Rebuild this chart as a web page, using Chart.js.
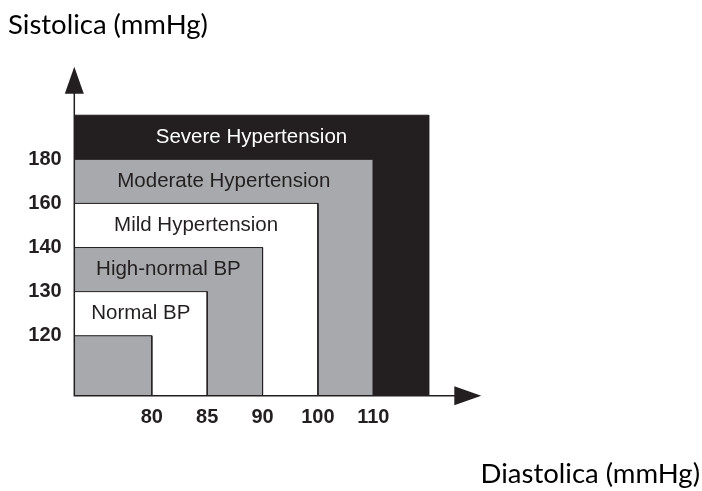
<!DOCTYPE html>
<html>
<head>
<meta charset="utf-8">
<script src="https://cdn.jsdelivr.net/npm/chart.js@4"></script>
<style>
  html, body { margin: 0; padding: 0; background: #fff; }
  #wrap { width: 702px; height: 491px; }
</style>
</head>
<body>
<div id="wrap"><canvas id="bpChart"></canvas></div>
<script>
// blood pressure classes, from the innermost box outwards
const categories = ['', 'Normal BP', 'High-normal BP', 'Mild Hypertension', 'Moderate Hypertension', 'Severe Hypertension'];
// upper limit of each class (null = no upper limit)
const diastolicLimits = [80, 85, 90, 100, 110, null];
const systolicLimits = [120, 130, 140, 160, 180, null];
// tick labels (the axes are drawn as ordinal steps, not to scale)
const xTickLabels = [80, 85, 90, 100, 110];
const yTickLabels = [120, 130, 140, 160, 180];

const boxColors = ['#a7a9ac', '#ffffff', '#a7a9ac', '#ffffff', '#a7a9ac', '#231f20'];
const labelColors = ['#231f20', '#231f20', '#231f20', '#231f20', '#231f20', '#ffffff'];
const INK = '#231f20';

const X_MIN = -1.4, X_MAX = 9.9, X_ARROW = 5.95;
const Y_MIN = -1.36, Y_MAX = 6.1;

// limit value -> position on the ordinal axis
const stepOf = (limits, ticks, i) => limits[i] === null ? ticks.length : ticks.indexOf(limits[i]);

const datasets = categories.map((name, i) => {
  const xr = stepOf(diastolicLimits, xTickLabels, i);
  const yt = stepOf(systolicLimits, yTickLabels, i);
  return {
    label: name,
    data: [{ x: X_MIN, y: yt }, { x: xr, y: yt }, { x: xr, y: Y_MIN }],
    backgroundColor: boxColors[i],
    borderColor: INK,
    borderWidth: 1,
    pointRadius: 0,
    tension: 0,
    fill: 'start'
  };
});

const boxLabels = {
  id: 'boxLabels',
  afterDatasetsDraw(chart) {
    const { ctx, scales: { x, y } } = chart;
    ctx.save();
    ctx.font = '20.5px "Liberation Sans", Arial, sans-serif';
    ctx.textAlign = 'center';
    ctx.textBaseline = 'middle';
    categories.forEach((name, i) => {
      if (!name) return;
      const xr = stepOf(diastolicLimits, xTickLabels, i);
      const yt = stepOf(systolicLimits, yTickLabels, i);
      ctx.fillStyle = labelColors[i];
      ctx.fillText(name, (x.left + x.getPixelForValue(xr)) / 2, y.getPixelForValue(yt - 0.5));
    });
    ctx.restore();
  }
};

const arrowAxes = {
  id: 'arrowAxes',
  afterDraw(chart) {
    const { ctx, scales: { x, y } } = chart;
    const ox = x.getPixelForValue(X_MIN), oy = y.getPixelForValue(Y_MIN);
    const tipX = x.getPixelForValue(X_ARROW), tipY = y.getPixelForValue(Y_MAX);
    ctx.save();
    ctx.strokeStyle = INK;
    ctx.fillStyle = INK;
    ctx.lineWidth = 1.5;
    ctx.beginPath();
    ctx.moveTo(ox, tipY + 20);
    ctx.lineTo(ox, oy);
    ctx.lineTo(tipX - 20, oy);
    ctx.stroke();
    ctx.beginPath();
    ctx.moveTo(ox, tipY);
    ctx.lineTo(ox - 9.5, tipY + 27);
    ctx.lineTo(ox + 9.5, tipY + 27);
    ctx.closePath();
    ctx.fill();
    ctx.beginPath();
    ctx.moveTo(tipX, oy);
    ctx.lineTo(tipX - 27, oy - 9.5);
    ctx.lineTo(tipX - 27, oy + 9.5);
    ctx.closePath();
    ctx.fill();
    ctx.restore();
  }
};

const titleFont = { family: 'Lato', size: 27.5, weight: 'normal', lineHeight: 1.2 };
const tickFont = { family: '"Liberation Sans", Arial', size: 20, weight: 'bold' };

new Chart(document.getElementById('bpChart'), {
  type: 'line',
  data: { datasets },
  options: {
    responsive: true,
    maintainAspectRatio: false,
    animation: false,
    layout: { padding: { left: 8, right: 2, top: 0, bottom: 0 } },
    plugins: {
      legend: { display: false },
      tooltip: { enabled: false },
      title: {
        display: true,
        text: 'Sistolica (mmHg)',
        align: 'start',
        color: '#000',
        font: titleFont,
        padding: { top: 9, bottom: 24.7 }
      },
      subtitle: {
        display: true,
        text: 'Diastolica (mmHg)',
        position: 'bottom',
        align: 'end',
        color: '#000',
        font: titleFont,
        padding: { top: 0, bottom: 0 }
      }
    },
    scales: {
      x: {
        type: 'linear',
        min: X_MIN,
        max: X_MAX,
        grid: { display: false, drawTicks: false },
        border: { display: false },
        afterBuildTicks: (s) => { s.ticks = xTickLabels.map((v, i) => ({ value: i })); },
        afterFit: (s) => { s.height = 62.3; },
        ticks: {
          maxRotation: 0,
          autoSkip: false,
          padding: 10,
          color: INK,
          font: tickFont,
          callback: (v) => xTickLabels[v]
        }
      },
      y: {
        type: 'linear',
        min: Y_MIN,
        max: Y_MAX,
        grid: { display: false, drawTicks: false },
        border: { display: false },
        afterBuildTicks: (s) => { s.ticks = yTickLabels.map((v, i) => ({ value: i })); },
        afterFit: (s) => { s.width = 66.3; },
        ticks: {
          autoSkip: false,
          padding: 12.6,
          color: INK,
          font: tickFont,
          callback: (v) => yTickLabels[v]
        }
      }
    }
  },
  plugins: [boxLabels, arrowAxes]
});
</script>
</body>
</html>
